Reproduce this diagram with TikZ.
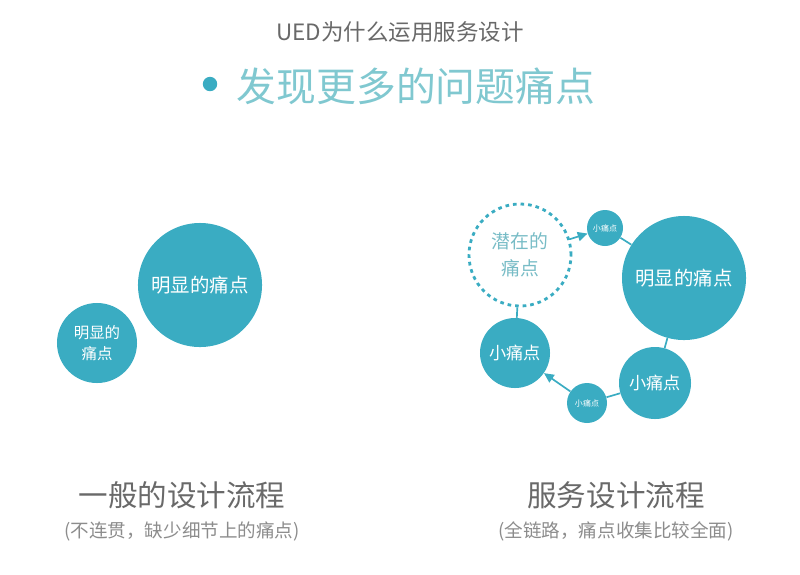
\documentclass[tikz,border=0pt]{standalone}
\usepackage{fontspec}
\setmainfont{Noto Sans CJK SC}
\usepackage{tikz}
\usetikzlibrary{arrows.meta}

\definecolor{painteal}{RGB}{58,172,194}
\definecolor{headteal}{RGB}{128,200,208}
\definecolor{hiddenteal}{RGB}{120,188,198}
\definecolor{titlegray}{RGB}{105,105,105}
\definecolor{subgray}{RGB}{140,140,140}

\begin{document}
\begin{tikzpicture}[x=0.025cm,y=-0.025cm,
                    pain node/.style={circle,fill=painteal,text=white,inner sep=0pt,align=center},
                    hidden node/.style={circle,draw=painteal,line width=2pt,dash pattern=on 2.6pt off 2.8pt,
                                        text=hiddenteal,inner sep=0pt,align=center},
                    link/.style={draw=painteal,line width=1.2pt},
                    flow/.style={link,-{Triangle[length=7pt,width=6.5pt]}}]

  \useasboundingbox (0,0) rectangle (800,574);

  % heading
  \node[text=titlegray,font=\fontsize{16pt}{19pt}\selectfont] (title) at (400,32) {UED为什么运用服务设计};
  \node[circle,fill=painteal,minimum size=0.36cm,inner sep=0pt] (bullet) at (210,84) {};
  \node[anchor=west,text=headteal,font=\fontsize{28.3pt}{32pt}\selectfont] (heading) at (232,86) {发现更多的问题痛点};

  % general process
  \node[pain node,minimum size=3.1cm,font=\fontsize{13.8pt}{16pt}\selectfont] (G1) at (200,285) {明显的痛点};
  \node[pain node,minimum size=2.0cm,font=\fontsize{11pt}{15pt}\selectfont] (G2) at (97,343) {明显的\\痛点};

  % service design process
  \node[hidden node,minimum size=2.55cm,font=\fontsize{13.4pt}{19pt}\selectfont] (H) at (520,255) {潜在的\\痛点};
  \node[pain node,minimum size=0.9cm,font=\fontsize{5.7pt}{7pt}\selectfont] (S1) at (605,228) {小痛点};
  \node[pain node,minimum size=3.1cm,font=\fontsize{13.8pt}{16pt}\selectfont] (M) at (684,278) {明显的痛点};
  \node[pain node,minimum size=1.8cm,font=\fontsize{12.2pt}{15pt}\selectfont] (S2) at (655,383) {小痛点};
  \node[pain node,minimum size=1.0cm,font=\fontsize{5.7pt}{7pt}\selectfont] (S3) at (587,403) {小痛点};
  \node[pain node,minimum size=1.75cm,font=\fontsize{12.2pt}{15pt}\selectfont] (S4) at (515,353) {小痛点};

  \draw[flow] (H) -- (S1);
  \draw[link] (S1) -- (M);
  \draw[link] (M) -- (S2);
  \draw[link] (S2) -- (S3);
  \draw[flow] (S3) -- (S4);
  \draw[link] (S4) -- (H);

  % captions
  \node[text=titlegray,font=\fontsize{21pt}{24pt}\selectfont] (gen) at (182,495) {一般的设计流程};
  \node[text=subgray,font=\fontsize{13.2pt}{15pt}\selectfont] (gensub) at (182,531) {(不连贯，缺少细节上的痛点)};
  \node[text=titlegray,font=\fontsize{21pt}{24pt}\selectfont] (srv) at (616,495) {服务设计流程};
  \node[text=subgray,font=\fontsize{13.2pt}{15pt}\selectfont] (srvsub) at (616,531) {(全链路，痛点收集比较全面)};
\end{tikzpicture}
\end{document}
